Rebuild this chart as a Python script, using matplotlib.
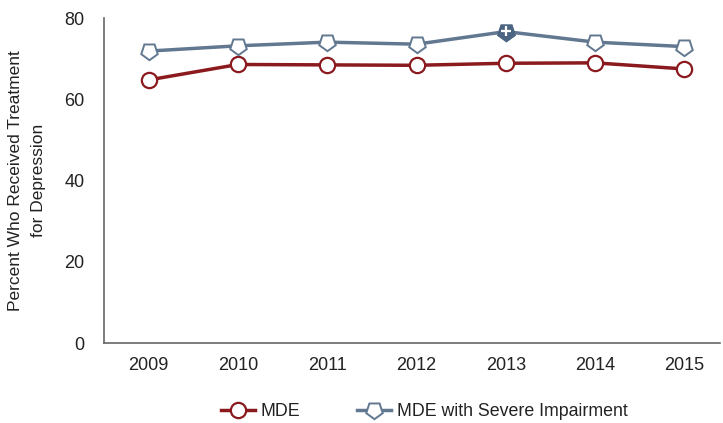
import matplotlib.pyplot as plt
from matplotlib import font_manager

years = [2009, 2010, 2011, 2012, 2013, 2014, 2015]
mde = [64.8, 68.6, 68.5, 68.4, 68.9, 69.0, 67.5]
mde_severe = [71.9, 73.2, 74.1, 73.6, 76.7, 74.1, 73.0]
yticks = [0, 20, 40, 60, 80]
highlight_year = 2013

names = {f.name for f in font_manager.fontManager.ttflist}
family = ['Liberation Sans Narrow', 'DejaVu Sans'] if 'Liberation Sans Narrow' in names else ['Liberation Sans', 'DejaVu Sans']
plt.rcParams['font.family'] = family

red = '#8b1a1e'
blue = '#617890'
dark = '#4c6583'
text_color = '#222222'

fig = plt.figure(figsize=(7.23, 4.23), dpi=100)
ax = fig.add_axes([0.144, 0.189, 0.852, 0.768])

pent = (5, 0, 180)
ax.plot(years, mde, color=red, lw=2.5, marker='o', ms=11, mfc='white',
        mec=red, mew=1.6, label='MDE', zorder=3)
ax.plot(years, mde_severe, color=blue, lw=2.5, marker=pent, ms=12.5, mfc='white',
        mec=blue, mew=1.4, label='MDE with Severe Impairment', zorder=3)

# significant difference marker
i = years.index(highlight_year)
ax.plot([years[i]], [mde_severe[i]], marker=pent, ms=12.5, mfc=dark, mec=dark,
        mew=1.4, ls='none', zorder=4)
ax.plot([years[i]], [mde_severe[i] + 0.2], marker='+', ms=6.5, mec='white',
        mew=1.6, ls='none', zorder=5)

ax.set_xlim(2008.5, 2015.4)
ax.set_ylim(0, 80)
ax.set_xticks(years)
ax.set_yticks(yticks)
ax.tick_params(length=0, labelsize=13, colors=text_color)
ax.tick_params(axis='x', pad=10)
ax.tick_params(axis='y', pad=14)
for s in ['top', 'right']:
    ax.spines[s].set_visible(False)
for s in ['left', 'bottom']:
    ax.spines[s].set_color('#666666')
    ax.spines[s].set_linewidth(1.2)

ax.set_ylabel('Percent Who Received Treatment\nfor Depression', fontsize=12.5,
              color=text_color, labelpad=13, linespacing=1.7)

ax.legend(loc='upper center', bbox_to_anchor=(0.52, -0.135), ncol=2, frameon=False,
          fontsize=12.8, handlelength=1.9, columnspacing=3.2, labelcolor=text_color,
          handletextpad=0.35)

fig.savefig('out.png', dpi=100)
